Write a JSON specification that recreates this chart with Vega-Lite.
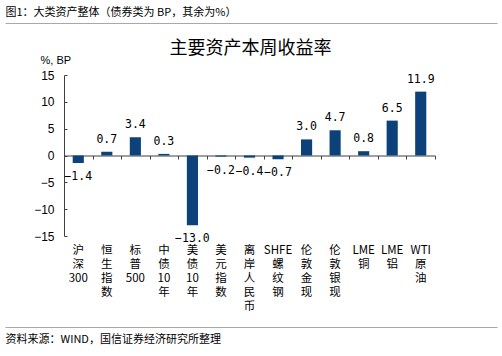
{
  "$schema": "https://vega.github.io/schema/vega-lite/v6.json",
  "width": 371,
  "height": 161,
  "autosize": {"type": "none"},
  "padding": {"left": 64, "top": 75, "right": 67, "bottom": 120},
  "background": "white",
  "config": {"view": {"stroke": null}, "font": "Noto Sans CJK SC"},
  "data": {
    "values": [
      {"asset": "沪深300", "value": -1.4},
      {"asset": "恒生指数", "value": 0.7},
      {"asset": "标普500", "value": 3.4},
      {"asset": "中债10年", "value": 0.3},
      {"asset": "美债10年", "value": -13.0},
      {"asset": "美元指数", "value": -0.2},
      {"asset": "离岸人民币", "value": -0.4},
      {"asset": "SHFE螺纹钢", "value": -0.7},
      {"asset": "伦敦金现", "value": 3.0},
      {"asset": "伦敦银现", "value": 4.7},
      {"asset": "LME铜", "value": 0.8},
      {"asset": "LME铝", "value": 6.5},
      {"asset": "WTI原油", "value": 11.9}
    ]
  },
  "layer": [
    {
      "layer": [
        {
          "mark": {"type": "bar", "color": "#0c4279", "width": {"band": 0.39}},
          "encoding": {
            "x": {
              "field": "asset", "type": "nominal", "sort": null,
              "scale": {"paddingInner": 0, "paddingOuter": 0},
              "axis": {
                "orient": "bottom", "offset": -80.5, "labels": false, "title": null,
                "domain": true, "domainColor": "#404040", "ticks": true, "tickColor": "#404040",
                "tickSize": 3.5, "tickBand": "extent", "grid": false
              }
            },
            "y": {
              "field": "value", "type": "quantitative",
              "scale": {"domain": [-15, 15], "nice": false},
              "axis": {
                "values": [-15, -10, -5, 0, 5, 10, 15], "tickCount": 7, "grid": false,
                "labelOverlap": false,
                "domainColor": "#404040", "tickColor": "#404040", "tickSize": -3,
                "labelPadding": 13, "labelFont": "Liberation Sans", "labelFontSize": 12, "labelColor": "#000",
                "title": "%, BP", "titleAngle": 0, "titleX": -24, "titleY": -15,
                "titleAlign": "left", "titleBaseline": "middle", "titleFont": "Liberation Sans",
                "titleFontSize": 11, "titleFontWeight": "normal", "titleColor": "#000"
              }
            }
          }
        },
        {
          "mark": {"type": "text", "baseline": "alphabetic", "dy": -9, "font": "DejaVu Sans Mono", "fontSize": 11.5, "color": "#000"},
          "encoding": {
            "x": {"field": "asset", "type": "nominal", "sort": null},
            "y": {"field": "value", "type": "quantitative"},
            "text": {"condition": {"test": "datum.value >= 0", "field": "value", "type": "quantitative", "format": ".1f"}, "value": ""}
          }
        },
        {
          "mark": {"type": "text", "baseline": "alphabetic", "dy": 17, "font": "DejaVu Sans Mono", "fontSize": 11.5, "color": "#000"},
          "encoding": {
            "x": {"field": "asset", "type": "nominal", "sort": null},
            "y": {"field": "value", "type": "quantitative"},
            "text": {"condition": {"test": "datum.value < 0", "field": "value", "type": "quantitative", "format": ".1f"}, "value": ""}
          }
        }
      ]
    },
    {
      "mark": {"type": "bar", "opacity": 0},
      "encoding": {
        "x": {
          "field": "asset", "type": "nominal", "sort": null,
          "scale": {"paddingInner": 0, "paddingOuter": 0},
          "axis": {
            "orient": "bottom", "domain": false, "ticks": false, "grid": false,
            "labelAngle": 0, "labelFontSize": 11.5, "labelColor": "#000", "labelLineHeight": 14,
            "labelPadding": 8, "labelBaseline": "top", "labelOverlap": false,
            "labelExpr": "split(replace(replace(replace(datum.label, /([^\\x00-\\x7f])/g, '|$1|'), /\\|+/g, '|'), /^\\||\\|$/g, ''), '|')",
            "title": "主要资产本周收益率", "titleX": 186, "titleY": -188,
            "titleAlign": "center", "titleBaseline": "middle", "titleFontSize": 18,
            "titleFontWeight": "normal", "titleColor": "#000"
          }
        }
      }
    },
    {
      "mark": {"type": "rule", "opacity": 0},
      "encoding": {
        "x": {
          "field": "value", "type": "quantitative",
          "scale": {"range": [-59, 433], "zero": false},
          "axis": {
            "orient": "top", "offset": 52, "grid": false, "ticks": true, "tickSize": 0, "labels": false,
            "domain": true, "domainColor": "#a8a8a8",
            "title": "图1：大类资产整体（债券类为 BP，其余为%）", "titleX": -59, "titleY": -10.5,
            "titleAlign": "left", "titleBaseline": "middle", "titleFontSize": 11,
            "titleFontWeight": "normal", "titleColor": "#000"
          }
        }
      }
    },
    {
      "mark": {"type": "rule", "opacity": 0},
      "encoding": {
        "x": {
          "field": "value", "type": "quantitative",
          "scale": {"range": [-59, 433], "zero": false},
          "axis": {
            "orient": "bottom", "offset": 91, "grid": false, "ticks": true, "tickSize": 0, "labels": false,
            "domain": true, "domainColor": "#a8a8a8",
            "title": "资料来源：WIND，国信证券经济研究所整理", "titleX": -59, "titleY": 12,
            "titleAlign": "left", "titleBaseline": "middle", "titleFontSize": 11,
            "titleFontWeight": "normal", "titleColor": "#000"
          }
        }
      }
    }
  ],
  "resolve": {"scale": {"x": "independent"}, "axis": {"x": "independent"}}
}
